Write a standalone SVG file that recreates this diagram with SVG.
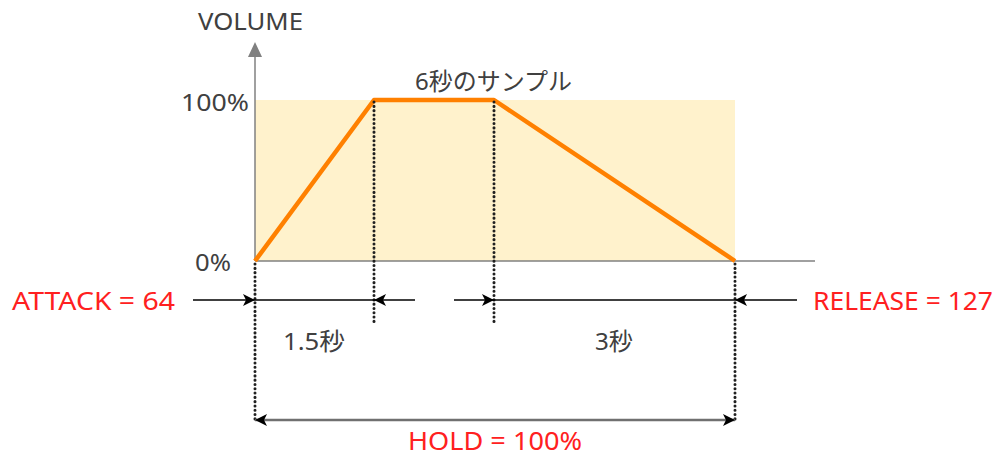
<svg xmlns="http://www.w3.org/2000/svg" width="1000" height="461" viewBox="0 0 1000 461">
<style>
text{font-family:"Noto Sans","Noto Sans CJK JP",sans-serif;}
.g{fill:#404040;font-size:24px;}
.r{fill:#ff2020;font-size:25px;}
.axis{stroke:#808080;stroke-width:1.5;fill:none;}
.dot{stroke:#202020;stroke-width:3;stroke-dasharray:0.1 4.2;stroke-linecap:round;fill:none;}
.dim{stroke:#000;stroke-width:1.5;fill:none;}
</style>
<defs>
<marker id="ah" viewBox="0 0 12 12" refX="12" refY="6" markerWidth="12" markerHeight="12" markerUnits="userSpaceOnUse" orient="auto-start-reverse">
<path d="M0,0 L12,6 L0,12 L3,6 Z" fill="#000"/>
</marker>
</defs>
<g id="chart">
<rect x="255" y="100" width="480" height="161" fill="#fff2cc"/>
<line class="axis" x1="255" y1="261" x2="815" y2="261"/>
<line class="axis" x1="255" y1="261" x2="255" y2="56"/>
<path d="M255,42 L262,57 L248,57 Z" fill="#808080"/>
<polyline points="255,261 374,100 494,100 735,261" fill="none" stroke="#ff8000" stroke-width="4.5" stroke-linejoin="round"/>
</g>
<g id="labels">
<text class="g" x="198" y="30" font-size="22" textLength="105" lengthAdjust="spacingAndGlyphs">VOLUME</text>
<text class="g" x="181" y="111" textLength="68" lengthAdjust="spacingAndGlyphs">100%</text>
<text class="g" x="195" y="271" textLength="36" lengthAdjust="spacingAndGlyphs">0%</text>
<text class="g" x="415" y="90" font-size="21" textLength="157" lengthAdjust="spacingAndGlyphs">6秒のサンプル</text>
<text class="g" x="283" y="350" font-size="21" textLength="62" lengthAdjust="spacingAndGlyphs">1.5秒</text>
<text class="g" x="595" y="350" font-size="21" textLength="38" lengthAdjust="spacingAndGlyphs">3秒</text>
</g>
<g id="attack"><text class="r" x="12" y="310" textLength="163" lengthAdjust="spacingAndGlyphs">ATTACK = 64</text></g>
<g id="release"><text class="r" x="813" y="310" textLength="180" lengthAdjust="spacingAndGlyphs">RELEASE = 127</text></g>
<g id="hold"><text class="r" x="408" y="450" textLength="174" lengthAdjust="spacingAndGlyphs">HOLD = 100%</text></g>
<g id="connectors">
<line class="dot" x1="255" y1="264" x2="255" y2="420"/>
<line class="dot" x1="374" y1="102" x2="374" y2="322"/>
<line class="dot" x1="494" y1="102" x2="494" y2="322"/>
<line class="dot" x1="735" y1="264" x2="735" y2="420"/>
<line class="dim" x1="193" y1="300" x2="255" y2="300" marker-end="url(#ah)"/>
<line class="dim" x1="255" y1="300" x2="374" y2="300"/>
<line class="dim" x1="415" y1="300" x2="374" y2="300" marker-end="url(#ah)"/>
<line class="dim" x1="454" y1="300" x2="494" y2="300" marker-end="url(#ah)"/>
<line class="dim" x1="494" y1="300" x2="735" y2="300"/>
<line class="dim" x1="797" y1="300" x2="735" y2="300" marker-end="url(#ah)"/>
<line x1="255" y1="420" x2="735" y2="420" stroke="#707070" stroke-width="2.5" marker-start="url(#ah)" marker-end="url(#ah)"/>
</g>
</svg>
